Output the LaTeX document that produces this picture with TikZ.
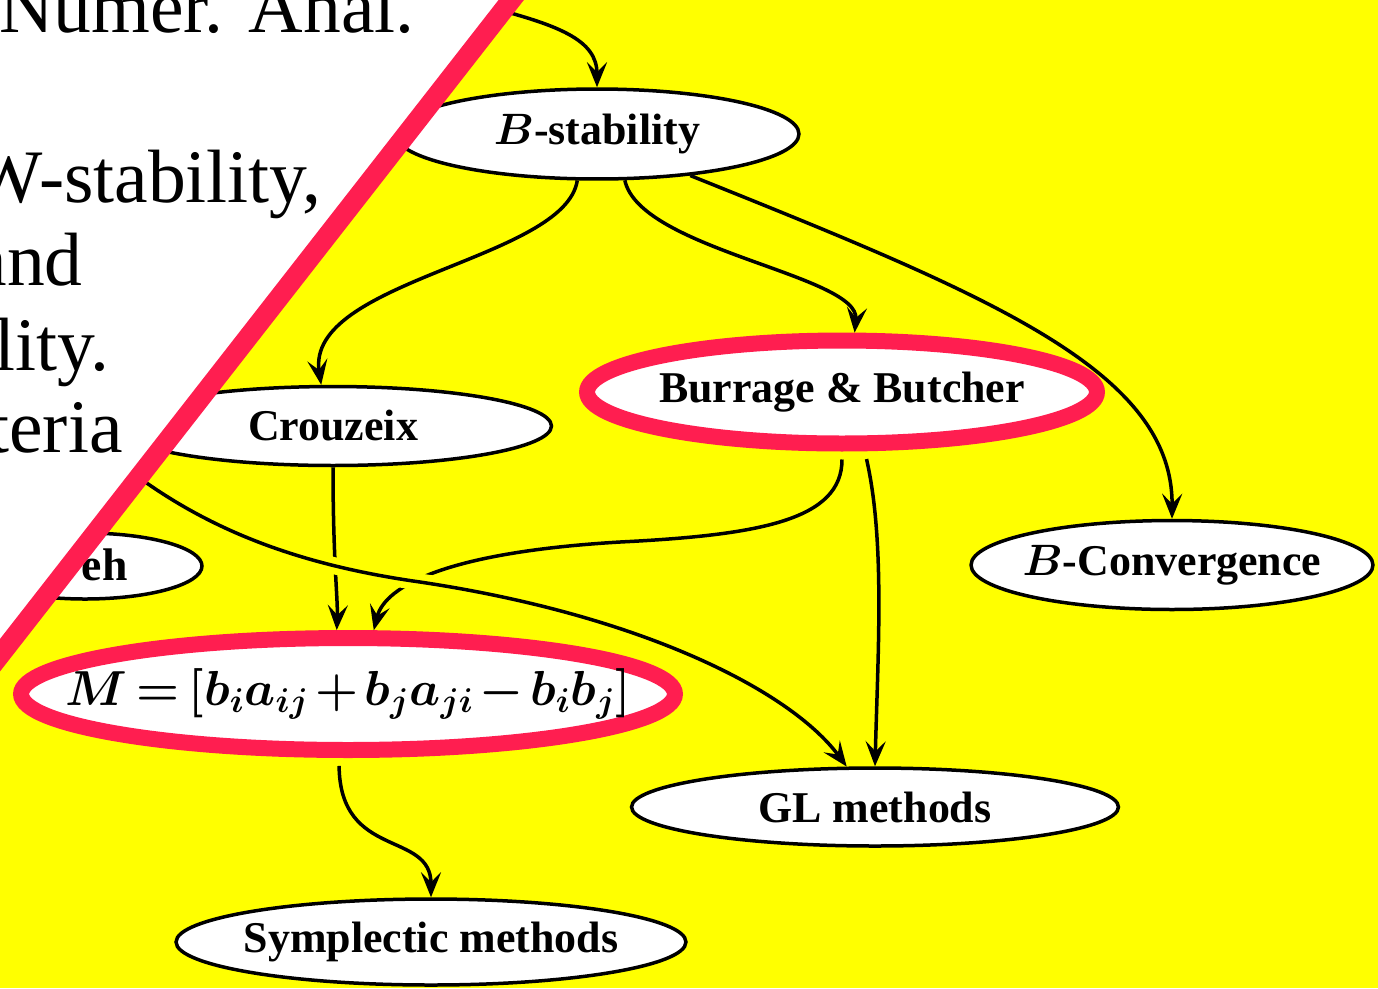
\documentclass[tikz,border=0pt]{standalone}
\usepackage{fix-cm}
\usepackage{amsmath}
\usepackage{fontspec}
\setmainfont{Liberation Serif}
\usetikzlibrary{shapes.geometric,arrows.meta}
\definecolor{slidered}{RGB}{255,30,80}
\definecolor{slideyellow}{RGB}{255,255,0}
\newcommand{\nodetext}[1]{\makebox[0pt]{#1}}

\begin{document}
\begin{tikzpicture}[x=0.02cm,y=-0.02cm,
    oval/.style={ellipse,draw,line width=0.07cm,fill=white,inner sep=0pt,font=\fontsize{25}{30}\selectfont\bfseries\boldmath},
    redoval/.style={oval,draw=slidered,line width=0.32cm},
    edge/.style={-{Stealth[length=0.5cm,width=0.4cm,inset=0.2cm]},line width=0.07cm},
    big/.style={anchor=base east,inner sep=0pt,font=\fontsize{43}{50}\selectfont}]
  \useasboundingbox (0,0) rectangle (1378,988);
  \clip (0,0) rectangle (1378,988);
  \fill[slideyellow] (0,0) rectangle (1378,988);

  \node[oval,minimum width=8.08cm,minimum height=1.8cm] (bstab) at (597,134) {\nodetext{$B$-stability}};
  \node[oval,minimum width=8.74cm,minimum height=1.58cm] (crou) at (333,426) {\nodetext{Crouzeix}};
  \node[redoval,minimum width=10.2cm,minimum height=2.06cm] (burr) at (842,392) {\nodetext{Burrage \& Butcher}};
  \node[oval,minimum width=8.04cm,minimum height=1.78cm] (bconv) at (1172,565) {\nodetext{$B$-Convergence}};
  \node[oval,minimum width=4.68cm,minimum height=1.32cm] (hsi) at (85,566) {};
  \node[anchor=base east,inner sep=0pt,font=\fontsize{26}{30}\selectfont\bfseries] (hsitext) at (128,580) {eh};
  \node[redoval,minimum width=13.08cm,minimum height=2.24cm] (mform) at (348,694)
    {\nodetext{\fontsize{28}{32}\selectfont$\thickmuskip=3mu\medmuskip=2mu M=[b_ia_{ij}+b_ja_{ji}-b_ib_j]$}};
  \node[oval,minimum width=9.74cm,minimum height=1.56cm] (gl) at (875,807) {\nodetext{GL methods}};
  \node[oval,minimum width=10.2cm,minimum height=1.72cm] (symp) at (431,942) {\nodetext{Symplectic methods}};

  \coordinate (srcA) at (480,5);
  \coordinate (srcH) at (110,455);
  \draw[edge] (srcA) .. controls (560,25) and (597,40) .. (bstab.north);
  \draw[edge] (bstab.247) .. controls (565,260) and (305,280) .. (crou.106);
  \draw[edge] (bstab.301) .. controls (640,250) and (860,275) .. (burr.78);
  \draw[edge] (bstab.336) .. controls (988,295) and (1173,370) .. (bconv.north);
  \draw[edge] (crou.south) .. controls (333,560) and (338,600) .. (mform.100);
  \draw[edge,shorten <=0.16cm] (burr.south) .. controls (842,520) and (760,535) .. (620,542)
    .. controls (450,552) and (385,585) .. (mform.68);
  \draw[edge,shorten <=0.16cm] (burr.291) .. controls (885,540) and (878,650) .. (gl.north);
  \draw[edge,preaction={draw=slideyellow,line width=0.34cm,-,shorten >=1cm}] (srcH)
    .. controls (200,530) and (300,565) .. (420,582) .. controls (640,615) and (790,690) .. (gl.125);
  \draw[edge,shorten <=0.16cm] (mform.262) .. controls (340,860) and (431,830) .. (symp.north);

  \fill[white] (-10,-10) -- (519,-10) -- (-10,668) -- cycle;
  \draw[slidered,line width=0.4cm] (519,-10) -- (-10,668);

  \node[big] (numer) at (415,32) {Numer. Anal.};
  \node[big] (wstab) at (322,202) {W-stability,};
  \node[big] (andline) at (83,285) {and};
  \node[big] (lity) at (110,370) {lity.};
  \node[big] (teria) at (123,452) {teria};
\end{tikzpicture}
\end{document}
